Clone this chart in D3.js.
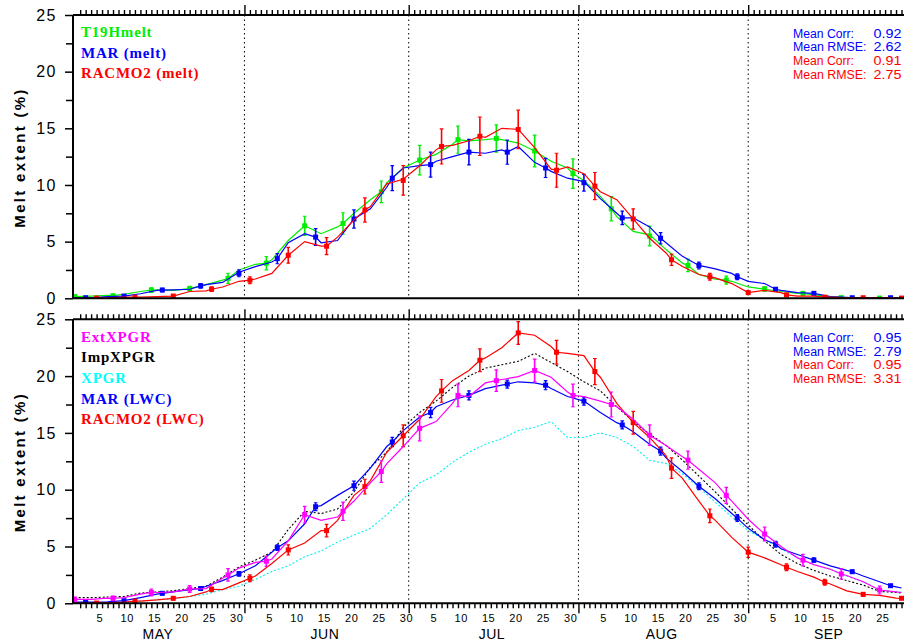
<!DOCTYPE html>
<html>
<head>
<meta charset="utf-8">
<script src="https://cdn.jsdelivr.net/npm/d3@7"></script>
<style>
  html, body { margin: 0; padding: 0; background: #fff; }
  svg { display: block; }
</style>
</head>
<body>
<svg id="chart" width="904" height="643"></svg>
<script>
// Day index: May 1 = 1 ... Sep 29 = 152
const sampleDays = [1,4,7,10,13,16,19,22,25,28,31,34,37,40,43,46,49,52,55,58,61,64,67,70,73,76,79,82,85,88,91,94,97,100,103,106,109,112,115,118,121,124,127,130,133,136,139,142,145,148,151,152];

// Upper panel: melt extent (%)
const t19hMelt  = [0.15,0.2,0.25,0.35,0.6,0.75,0.7,0.85,1.2,1.6, 2.5,3.0,3.4,5.1,6.4,5.7,6.3,7.5,8.7,10.2, 11.5,12.2,12.7,13.6,13.9,14.0,14.0,13.7,13.0,12.1, 11.5,10.4,9.0,7.2,5.9,5.6,4.3,3.1,2.1,1.7, 1.5,1.0,0.8,0.6,0.44,0.3,0.15,0.05,0.03,0.02, 0.02,0.02];
const marMelt   = [0.05,0.05,0.15,0.2,0.4,0.7,0.75,0.8,1.2,1.4, 2.3,2.8,3.2,4.9,5.7,4.9,5.1,7.0,7.9,9.8, 11.5,11.7,12.1,12.5,12.9,12.8,13.1,13.4,12.0,11.2, 10.6,10.3,8.8,7.5,7.1,6.3,4.9,3.7,2.9,2.6, 2.2,1.5,1.3,0.7,0.5,0.44,0.15,0.08,0.05,0.05, 0.03,0.03];
const racmoMelt = [0.0,0.0,0.05,0.1,0.1,0.15,0.2,0.6,0.65,1.0, 1.5,1.7,2.2,3.8,5.0,4.6,5.4,6.9,8.1,10.1, 10.5,11.7,13.1,13.5,13.9,14.2,15.0,14.9,13.3,11.4, 11.6,11.0,9.4,8.7,7.0,5.3,4.0,2.8,2.1,1.8, 1.3,0.5,0.7,0.5,0.2,0.2,0.1,0.05,0.05,0.03, 0.02,0.02];

// Lower panel: liquid water / melt extent (%)
const extXpgr  = [0.35,0.35,0.45,0.5,0.8,0.95,1.0,1.26,1.3,2.2, 3.1,3.6,3.9,5.5,7.8,7.3,7.6,9.0,10.6,12.3, 13.8,15.4,16.0,17.6,18.2,19.4,19.7,19.95,20.5,19.9, 18.6,18.2,17.8,17.3,16.2,14.8,13.9,12.9,11.8,10.6, 9.0,7.4,6.1,5.0,4.0,3.4,3.0,2.45,1.9,1.17, 1.0,0.95];
const impXpgr  = [0.5,0.5,0.55,0.6,0.9,1.0,1.1,1.3,1.5,2.3, 3.2,3.8,4.5,6.5,8.1,7.9,8.3,9.8,12.0,13.3, 15.5,16.8,17.8,19.0,20.0,20.7,21.0,21.3,22.0,21.2, 20.4,19.5,18.7,17.3,16.0,14.9,13.9,12.6,11.2,9.8, 8.3,6.9,5.5,4.3,3.5,2.9,2.4,2.0,1.6,1.05, 0.95,0.9];
const xpgr     = [0.05,0.05,0.08,0.1,0.2,0.3,0.4,0.6,0.8,1.2, 1.5,2.1,2.8,3.3,4.1,4.6,5.4,6.0,6.6,7.8, 9.2,10.6,11.3,12.4,13.3,14.0,14.5,15.2,15.5,16.0, 14.6,14.6,15.0,14.6,13.8,12.6,12.3,11.4,10.2,8.9, 7.6,6.4,5.6,4.8,4.0,3.4,3.0,2.4,1.9,1.2, 1.0,1.0];
const marLwc   = [0.1,0.1,0.12,0.23,0.5,0.8,1.0,1.2,1.5,2.0, 2.6,3.3,4.5,5.5,7.0,8.6,9.5,10.35,11.9,13.8, 15.2,16.4,17.3,17.9,18.3,18.9,19.2,19.5,19.4,18.9, 18.2,17.8,16.8,15.9,15.1,14.0,12.8,11.6,10.3,9.2, 7.9,6.6,5.6,4.8,4.3,3.8,3.3,2.9,2.4,1.9, 1.45,1.35];
const racmoLwc = [0.02,0.02,0.05,0.1,0.2,0.3,0.44,0.6,1.0,1.2, 1.8,2.4,3.5,4.7,5.3,6.4,7.3,9.5,10.8,13.3, 14.75,16.2,18.2,19.6,20.5,21.6,22.5,23.8,23.6,22.6, 22.0,21.8,19.9,17.6,15.9,14.6,13.0,11.0,9.0,7.3, 5.8,4.5,4.0,3.4,2.8,2.3,1.7,1.1,0.79,0.7, 0.45,0.44];

// Weekly means with spread (error bars)
const markDaysA = [1,8,15,22,29,36,43,50,57,64,71,78,85,92,99,106,113,120,127,134,141,148];
const markDaysB = [3,10,17,24,31,38,45,52,59,66,73,80,87,94,101,108,115,122,129,136,143,150];
const markDaysC = [5,12,19,26,33,40,47,54,61,68,75,82,89,96,103,110,117,124,131,138,145,152];

const t19hMark     = [0.15,0.23,0.73,0.85,1.76,3.1,6.4,6.6,9.4,12.2,14.0,14.1,13.0,11.0,7.9,5.5,2.9,1.6,0.82,0.44,0.06,0.02];
const t19hErr      = [0.1,0.1,0.2,0.2,0.45,0.59,0.84,0.95,0.95,1.3,1.2,1.2,1.4,1.3,1.07,0.87,0.55,0.35,0.2,0.15,0.1,0.05];
const marMeltMark  = [0.05,0.2,0.73,1.1,2.2,3.5,5.4,7.0,10.6,11.8,12.9,12.9,11.5,10.2,7.1,5.3,2.9,1.9,0.8,0.44,0.05,0.05];
const marMeltErr   = [0.05,0.1,0.15,0.2,0.3,0.45,0.74,0.8,1.1,1.1,1.13,1.07,0.84,0.74,0.6,0.5,0.3,0.25,0.15,0.1,0.05,0.05];
const racmoMeltMark= [0.02,0.1,0.2,0.8,1.6,3.8,4.6,7.8,10.4,13.4,14.3,14.9,11.3,9.9,7.0,3.4,1.9,0.5,0.3,0.1,0.05,0.02];
const racmoMeltErr = [0.05,0.1,0.1,0.2,0.3,0.7,0.75,1.07,1.3,1.55,1.7,1.7,1.5,1.2,0.9,0.5,0.3,0.15,0.1,0.1,0.05,0.05];

const extMark      = [0.35,0.44,0.96,1.26,2.5,3.7,7.8,8.1,11.6,15.4,18.3,19.6,20.5,18.3,17.5,14.8,12.6,9.5,6.1,3.8,2.58,1.17];
const extErr       = [0.2,0.2,0.3,0.3,0.55,0.45,0.73,0.8,0.95,1.1,1.0,0.95,1.0,1.0,1.1,0.9,0.8,0.7,0.6,0.5,0.45,0.35];
const marLwcMark   = [0.1,0.23,0.88,1.3,2.6,4.9,8.5,10.35,14.2,16.8,18.3,19.3,19.2,17.8,15.7,13.4,10.3,7.5,5.2,3.8,2.78,1.55];
const marLwcErr    = [0.1,0.1,0.15,0.15,0.2,0.25,0.35,0.4,0.4,0.45,0.4,0.35,0.4,0.35,0.35,0.35,0.3,0.3,0.25,0.2,0.15,0.1];
const racmoLwcMark = [0.02,0.2,0.44,1.23,2.2,4.7,6.4,10.27,14.75,18.7,21.4,23.8,22.1,20.4,15.9,11.9,7.7,4.5,3.17,1.85,0.79,0.44];
const racmoLwcErr  = [0.05,0.1,0.15,0.2,0.3,0.45,0.55,0.65,0.95,1.0,1.0,1.0,1.05,1.15,1.0,0.9,0.6,0.45,0.3,0.25,0.15,0.1];

// Axis labelling
const monthStarts = [1, 32, 62, 93, 124, 154];
const monthNames  = ["MAY", "JUN", "JUL", "AUG", "SEP"];
const dayLabels   = [5, 10, 15, 20, 25, 30];
const yMajor = [0, 5, 10, 15, 20, 25];
const yMinor = [2.5, 7.5, 12.5, 17.5, 22.5];

const statsTop    = [["Mean Corr:", "0.92", "#0000ff"], ["Mean RMSE:", "2.62", "#0000ff"], ["Mean Corr:", "0.91", "#ff0000"], ["Mean RMSE:", "2.75", "#ff0000"]];
const statsBottom = [["Mean Corr:", "0.95", "#0000ff"], ["Mean RMSE:", "2.79", "#0000ff"], ["Mean Corr:", "0.95", "#ff0000"], ["Mean RMSE:", "3.31", "#ff0000"]];

// ---------------------------------------------------------------
const svg = d3.select("#chart");
const W = 904;
const left = 73;
const x = d3.scaleLinear().domain([1, 152]).range([74.7, 901.5]);

const panels = [
  { top: 15, bottom: 298.3, topTicks: true, bottomTicks: false,
    legend: [["T19Hmelt", "#00ee00"], ["MAR (melt)", "#0000ff"], ["RACMO2 (melt)", "#ff0000"]],
    legendY: 37, stats: statsTop, statsY: 37.5,
    lines: [
      { vals: t19hMelt, color: "#00ee00", dash: null, mk: { days: markDaysA, v: t19hMark, e: t19hErr } },
      { vals: marMelt, color: "#0000ff", dash: null, mk: { days: markDaysB, v: marMeltMark, e: marMeltErr } },
      { vals: racmoMelt, color: "#ff0000", dash: null, mk: { days: markDaysC, v: racmoMeltMark, e: racmoMeltErr } }
    ] },
  { top: 319.3, bottom: 603.3, topTicks: true, bottomTicks: true,
    legend: [["ExtXPGR", "#ff00ff"], ["ImpXPGR", "#000000"], ["XPGR", "#00ffff"], ["MAR (LWC)", "#0000ff"], ["RACMO2 (LWC)", "#ff0000"]],
    legendY: 341.5, stats: statsBottom, statsY: 342,
    lines: [
      { vals: xpgr, color: "#00f0f0", dash: "2,2", mk: null },
      { vals: impXpgr, color: "#000000", dash: "2,2", mk: null },
      { vals: marLwc, color: "#0000ff", dash: null, mk: { days: markDaysB, v: marLwcMark, e: marLwcErr } },
      { vals: racmoLwc, color: "#ff0000", dash: null, mk: { days: markDaysC, v: racmoLwcMark, e: racmoLwcErr } },
      { vals: extXpgr, color: "#ff00ff", dash: null, mk: { days: markDaysA, v: extMark, e: extErr } }
    ] }
];

const defs = svg.append("defs");

panels.forEach((p, pi) => {
  const y = d3.scaleLinear().domain([0, 25]).range([p.bottom, p.top]);
  const g = svg.append("g");

  defs.append("clipPath").attr("id", "clip" + pi)
    .append("rect").attr("x", left).attr("y", p.top - 6).attr("width", W - left).attr("height", p.bottom - p.top + 6);

  // month separators
  g.selectAll("line.sep").data(monthStarts.slice(1, 5)).join("line")
    .attr("x1", d => x(d)).attr("x2", d => x(d))
    .attr("y1", p.top).attr("y2", p.bottom)
    .attr("stroke", "#000").attr("stroke-width", 1).attr("stroke-dasharray", "1.5,3");

  const plot = g.append("g").attr("clip-path", `url(#clip${pi})`);

  p.lines.forEach(s => {
    // line through daily samples and weekly means
    let pts = sampleDays.map((d, i) => [d, s.vals[i]]);
    if (s.mk) {
      const used = new Set(sampleDays);
      s.mk.days.forEach((d, i) => { if (!used.has(d)) pts.push([d, s.mk.v[i]]); });
      pts.sort((a, b) => a[0] - b[0]);
    }
    const line = d3.line().x(d => x(d[0])).y(d => y(d[1]));
    plot.append("path").attr("d", line(pts))
      .attr("fill", "none").attr("stroke", s.color)
      .attr("stroke-width", s.dash ? 1.1 : 1.2)
      .attr("stroke-dasharray", s.dash);

    if (s.mk) {
      const mg = plot.append("g");
      s.mk.days.forEach((d, i) => {
        const cx = x(d), v = s.mk.v[i], e = s.mk.e[i];
        const y1 = y(v + e), y2 = y(Math.max(v - e, 0));
        mg.append("line").attr("x1", cx).attr("x2", cx).attr("y1", y1).attr("y2", y2)
          .attr("stroke", s.color).attr("stroke-width", 1.6);
        [y1, y2].forEach(yy => mg.append("line")
          .attr("x1", cx - 1.8).attr("x2", cx + 1.8).attr("y1", yy).attr("y2", yy)
          .attr("stroke", s.color).attr("stroke-width", 1.2));
        mg.append("rect").attr("x", cx - 2.5).attr("y", y(v) - 2.5)
          .attr("width", 5).attr("height", 5).attr("fill", s.color);
      });
    }
  });

  // y axis
  const yAxis = d3.axisLeft(y).tickValues(yMajor).tickSize(8).tickPadding(8).tickFormat(d3.format("d"));
  const ya = g.append("g").attr("transform", `translate(${left},0)`).call(yAxis);
  ya.select(".domain").remove();
  ya.selectAll("text").attr("font-family", "Liberation Sans, Arial, sans-serif").attr("font-size", 16)
    .attr("letter-spacing", 1.5).attr("fill", "#000");
  ya.selectAll("line").attr("stroke-width", 1.5);
  const ym = g.append("g").attr("transform", `translate(${left},0)`)
    .call(d3.axisLeft(y).tickValues(yMinor).tickSize(7).tickFormat(""));
  ym.select(".domain").remove();
  ym.selectAll("line").attr("stroke-width", 1.5);
  g.append("line").attr("x1", left).attr("x2", left).attr("y1", p.top).attr("y2", p.bottom)
    .attr("stroke", "#000").attr("stroke-width", 2);

  // horizontal frame lines
  g.append("line").attr("x1", left).attr("x2", W).attr("y1", p.top).attr("y2", p.top)
    .attr("stroke", "#000").attr("stroke-width", 2);
  g.append("line").attr("x1", left).attr("x2", W).attr("y1", p.bottom).attr("y2", p.bottom)
    .attr("stroke", "#000").attr("stroke-width", 2);

  const dayTicks = d3.range(1, 153).filter(d => !monthStarts.includes(d));
  const majTicks = monthStarts.slice(1, 5);
  const addTicks = (axisFn, yPos, vals, size) => {
    const a = g.append("g").attr("transform", `translate(0,${yPos})`)
      .call(axisFn(x).tickValues(vals).tickSize(size).tickFormat(""));
    a.select(".domain").remove();
    a.selectAll("line").attr("stroke-width", 1.4);
  };
  if (p.topTicks) {
    addTicks(d3.axisTop, p.top, dayTicks, 5);
    addTicks(d3.axisTop, p.top, majTicks, 10);
  }
  if (p.bottomTicks) {
    addTicks(d3.axisBottom, p.bottom, dayTicks, 5);
    addTicks(d3.axisBottom, p.bottom, majTicks, 10);

    // day-of-month labels
    const labelPos = [];
    monthStarts.slice(0, 5).forEach(ms => dayLabels.forEach(dl => {
      const pos = ms + dl - 1 + 0.5;
      if (pos < 152.5) labelPos.push({ pos, dl });
    }));
    const la = g.append("g").attr("transform", `translate(0,${p.bottom})`)
      .call(d3.axisBottom(x).tickValues(labelPos.map(d => d.pos)).tickSize(0).tickPadding(11)
        .tickFormat((d, i) => labelPos[i].dl));
    la.select(".domain").remove();
    la.selectAll("text").attr("font-family", "Liberation Sans, Arial, sans-serif")
      .attr("font-size", 11).attr("letter-spacing", 0.5).attr("fill", "#000");

    // month names
    g.selectAll("text.month").data(monthNames).join("text")
      .attr("x", (d, i) => x((monthStarts[i] + monthStarts[i + 1]) / 2 - 0.3))
      .attr("y", 639).attr("text-anchor", "middle")
      .attr("font-family", "Liberation Sans, Arial, sans-serif").attr("font-size", 14)
      .attr("letter-spacing", 0.5).text(d => d);
  }

  // y-axis title
  g.append("text")
    .attr("transform", `translate(25,${(p.top + p.bottom) / 2 + 2}) rotate(-90)`)
    .attr("text-anchor", "middle")
    .attr("font-family", "Liberation Sans, Arial, sans-serif").attr("font-weight", "bold")
    .attr("font-size", 15).attr("textLength", 138).attr("lengthAdjust", "spacing")
    .text("Melt extent (%)");

  // legend
  p.legend.forEach((l, i) => {
    g.append("text").attr("x", 81).attr("y", p.legendY + i * 20.7)
      .attr("font-family", "Liberation Serif, Times New Roman, serif").attr("font-weight", "bold")
      .attr("font-size", 15).attr("letter-spacing", 0.8).attr("fill", l[1]).text(l[0]);
  });

  // summary statistics
  p.stats.forEach((s, i) => {
    const yy = p.statsY + i * 13.7;
    g.append("text").attr("x", 793).attr("y", yy)
      .attr("font-family", "Liberation Sans, Arial, sans-serif").attr("font-size", 12)
      .attr("textLength", s[0] === "Mean Corr:" ? 61 : 73.5).attr("lengthAdjust", "spacingAndGlyphs")
      .attr("fill", s[2]).text(s[0]);
    g.append("text").attr("x", 873.5).attr("y", yy)
      .attr("font-family", "Liberation Sans, Arial, sans-serif").attr("font-size", 12)
      .attr("textLength", 28).attr("lengthAdjust", "spacingAndGlyphs")
      .attr("fill", s[2]).text(s[1]);
  });
});
</script>
</body>
</html>
